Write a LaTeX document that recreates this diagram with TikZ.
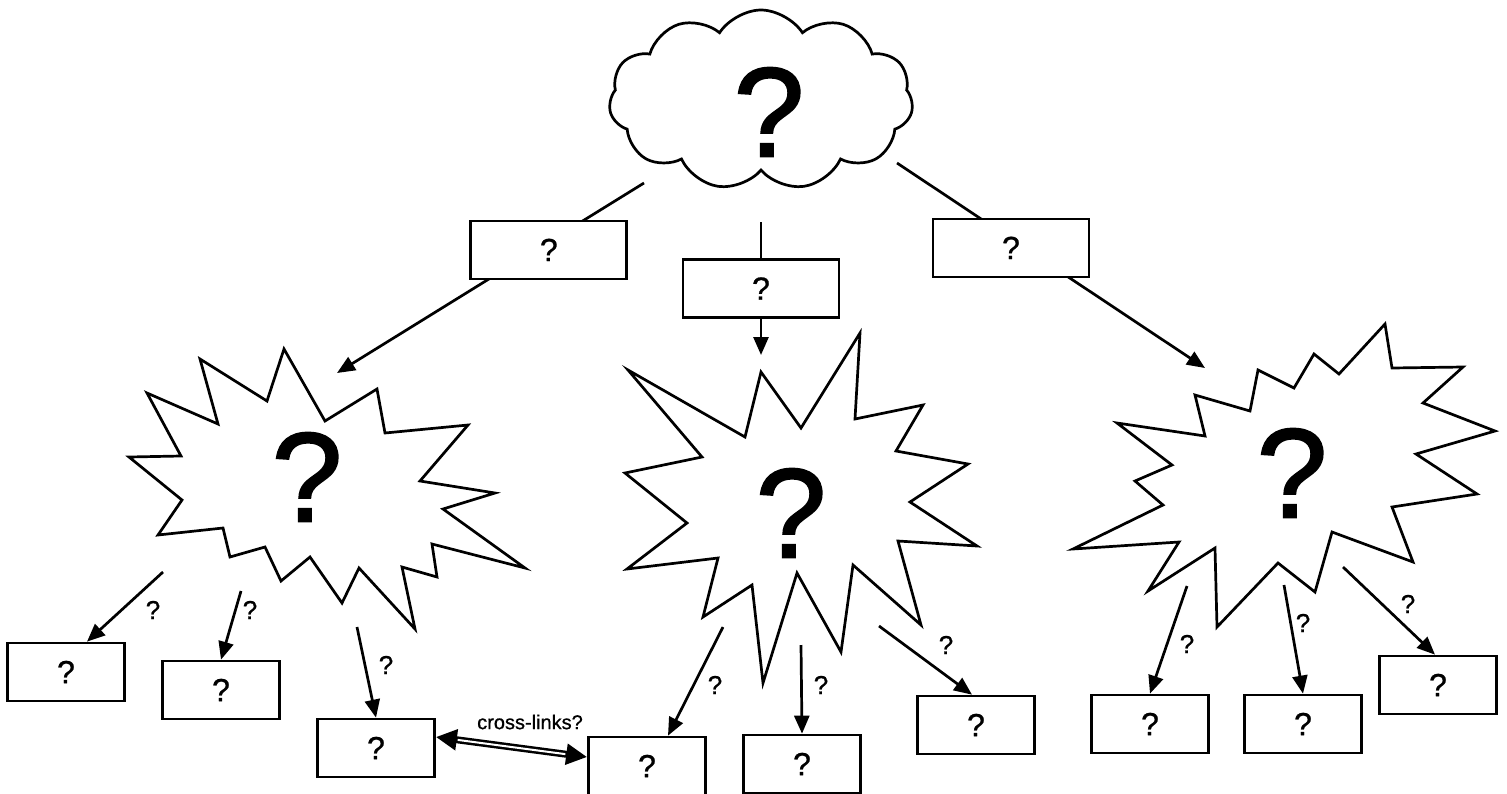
\documentclass[tikz,border=0pt]{standalone}
\usepackage{fontspec}
\setmainfont{Liberation Sans}
\newfontfamily\heavyfont[FakeBold=1.6]{Liberation Sans}
\newfontfamily\semifont[FakeBold=0.8]{Liberation Sans}
\usetikzlibrary{arrows.meta,shapes.symbols}

\tikzset{
  qbox/.style={draw, fill=white, line width=2.7pt, minimum width=117pt, minimum height=58pt, inner sep=0pt, font=\semifont\fontsize{32}{34}\selectfont},
  widebox/.style={qbox, minimum width=156pt},
  link/.style={line width=2.7pt, -{Triangle[length=18pt,width=15pt]}},
  xlink/.style={line width=7pt, {Triangle[length=21pt,width=20pt]}-{Triangle[length=21pt,width=20pt]},
    postaction={draw=white, line width=2pt, arrows=-, shorten <=22pt, shorten >=22pt}},
  tag/.style={inner sep=0pt, font=\semifont\fontsize{26}{28}\selectfont},
  bigq/.style={inner sep=0pt, font=\heavyfont\fontsize{127}{130}\selectfont},
  burst/.style={draw, fill=white, line width=2.7pt},
  puffy/.style={draw, shape=cloud, cloud puffs=11, cloud puff arc=115, cloud ignores aspect, line width=2.7pt}
}

\begin{document}
\begin{tikzpicture}[x=1pt, y=-1pt]
\useasboundingbox (0,0) rectangle (1507,793);

% the unknown at the top
\node[puffy, minimum width=304pt, minimum height=180pt] (cloud) at (761,100) {};
\node[bigq] (cloudq) at (769,112) {?};

% the three bursts
\draw[burst] (284,349) -- (325,421) -- (377,389) -- (385,433) -- (468,425) -- (420,481) -- (495,493) -- (443,509)
  -- (525,568) -- (432,544) -- (437,577) -- (402,567) -- (415,629) -- (359,568) -- (342,603) -- (310,557)
  -- (281,581) -- (265,547) -- (230,557) -- (223,528) -- (158,535) -- (182,500) -- (129,457) -- (181,456)
  -- (147,393) -- (218,424) -- (200,359) -- (267,401) -- cycle;
\node[bigq] (leftq) at (307,477) {?};

\draw[burst] (628,370) -- (745,437) -- (761,372) -- (801,428) -- (860,333) -- (855,419) -- (923,405) -- (896,451)
  -- (968,464) -- (910,502) -- (977,546) -- (898,541) -- (921,625) -- (853,565) -- (841,652) -- (797,573)
  -- (763,683) -- (752,585) -- (703,617) -- (718,558) -- (627,569) -- (687,523) -- (625,473) -- (702,457) -- cycle;
\node[bigq] (midq) at (791,513) {?};

\draw[burst] (1385,324) -- (1392,368) -- (1463,367) -- (1423,403) -- (1495,431) -- (1416,454) -- (1477,494)
  -- (1392,507) -- (1413,562) -- (1332,532) -- (1315,592) -- (1278,563) -- (1217,627) -- (1215,548)
  -- (1148,591) -- (1179,542) -- (1073,549) -- (1163,505) -- (1135,481) -- (1172,465) -- (1117,423)
  -- (1205,436) -- (1195,395) -- (1250,411) -- (1258,370) -- (1294,388) -- (1314,354) -- (1339,374) -- cycle;
\node[bigq] (rightq) at (1292,473) {?};

% first level
\coordinate (cl) at (644,183);
\coordinate (cm) at (761,222);
\coordinate (cr) at (897,163);
\coordinate (bl) at (337,373);
\coordinate (bm) at (761,355);
\coordinate (br) at (1205,368);
\draw[link] (cl) -- node[widebox, pos=0.31, yshift=-8pt] (ta) {?} (bl);
\draw[link] (cm) -- node[widebox, pos=0.5] (tb) {?} (bm);
\draw[link] (cr) -- node[widebox, pos=0.37, yshift=-9pt] (tc) {?} (br);

% second level
\node[qbox] (l1) at (66,672) {?};
\node[qbox] (l2) at (221,690) {?};
\node[qbox] (l3) at (376,748) {?};
\node[qbox] (m1) at (647,766) {?};
\node[qbox] (m2) at (802,764) {?};
\node[qbox] (m3) at (976,725) {?};
\node[qbox] (r1) at (1150,724) {?};
\node[qbox] (r2) at (1303,724) {?};
\node[qbox] (r3) at (1438,685) {?};

\coordinate (sl1) at (163,572);
\coordinate (sl2) at (241,591);
\coordinate (sl3) at (357,627);
\coordinate (sm1) at (723,627);
\coordinate (sm2) at (801,645);
\coordinate (sm3) at (879,626);
\coordinate (sr1) at (1187,586);
\coordinate (sr2) at (1284,585);
\coordinate (sr3) at (1343,567);

\draw[link] (sl1) -- ([xshift=21pt]l1.north);
\draw[link] (sl2) -- (l2.north);
\draw[link] (sl3) -- (l3.north);
\draw[link] (sm1) -- ([xshift=21pt]m1.north);
\draw[link] (sm2) -- (m2.north);
\draw[link] (sm3) -- ([xshift=-4pt]m3.north);
\draw[link] (sr1) -- (r1.north);
\draw[link] (sr2) -- (r2.north);
\draw[link] (sr3) -- ([xshift=-3pt]r3.north);

\node[tag] (ql1) at (153,610) {?};
\node[tag] (ql2) at (250,610) {?};
\node[tag] (ql3) at (386,665) {?};
\node[tag] (qm1) at (715,685) {?};
\node[tag] (qm2) at (821,685) {?};
\node[tag] (qm3) at (946,645) {?};
\node[tag] (qr1) at (1187,644) {?};
\node[tag] (qr2) at (1303,623) {?};
\node[tag] (qr3) at (1408,604) {?};

% cross-links
\draw[xlink] ([yshift=11pt]l3.east) -- ([yshift=9pt]m1.west);
\node[font=\semifont\fontsize{20}{22}\selectfont] (xl) at (530,722) {cross-links?};
\end{tikzpicture}
\end{document}
